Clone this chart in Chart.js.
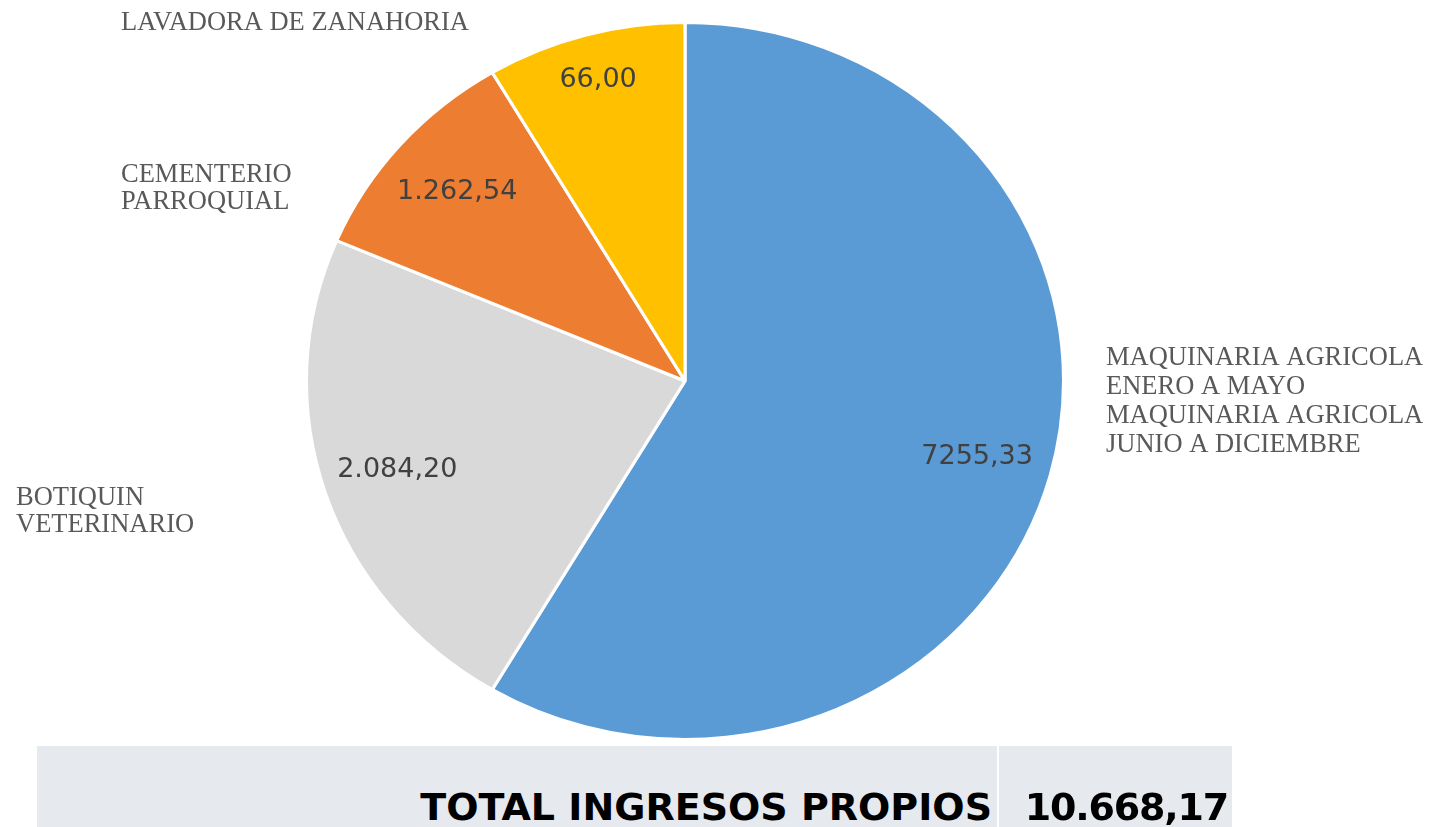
<!DOCTYPE html>
<html lang="es">
<head>
  <meta charset="UTF-8">
  <title>Total ingresos propios</title>
  <script src="https://cdn.jsdelivr.net/npm/chart.js@4.4.0/dist/chart.umd.min.js"></script>
  <style>
    html, body { margin: 0; padding: 0; background: #fff; }
    body { width: 1433px; height: 827px; position: relative; overflow: hidden; }
    #pie { position: absolute; left: 0; top: 0; }
    .cell {
      position: absolute; top: 746px; height: 90px; background: #E6E9ED;
      font-family: "DejaVu Sans", Verdana, sans-serif; font-weight: bold;
      font-size: 38px; line-height: 38px; color: #000;
    }
    .cell span { position: absolute; top: 42px; white-space: nowrap; }
  </style>
</head>
<body>
  <canvas id="pie" width="1433" height="827"></canvas>
  <div class="cell" style="left:37px; width:960px;"><span id="totalLabel" style="right:5px;"></span></div>
  <div class="cell" style="left:999px; width:233px;"><span id="totalValue" style="right:4px; letter-spacing:-1.2px;"></span></div>
  <script>
    // categorias (en el orden en que se dibujan, desde arriba en sentido horario)
    const categories = [
      ['MAQUINARIA AGRICOLA', 'ENERO A MAYO', 'MAQUINARIA AGRICOLA', 'JUNIO A DICIEMBRE'],
      ['BOTIQUIN', 'VETERINARIO'],
      ['CEMENTERIO', 'PARROQUIAL'],
      ['LAVADORA DE ZANAHORIA']
    ];
    // tamaño de cada porcion tal como aparece en el grafico (%)
    const sliceShare = [58.5, 22.9, 10.1, 8.5];
    // etiquetas de valor que muestra cada porcion
    const valueLabels = ['7255,33', '2.084,20', '1.262,54', '66,00'];
    const totalLabel = 'TOTAL INGRESOS PROPIOS';
    const totalValue = '10.668,17';

    document.getElementById('totalLabel').textContent = totalLabel;
    document.getElementById('totalValue').textContent = totalValue;

    // el pastel original esta algo estirado en horizontal
    const stretchX = 1.056;

    const ellipsePlugin = {
      id: 'ellipse',
      beforeDatasetsDraw(chart) {
        const a = chart.chartArea;
        const cx = (a.left + a.right) / 2;
        const c = chart.ctx;
        c.save();
        c.translate(cx, 0);
        c.scale(stretchX, 1);
        c.translate(-cx, 0);
      },
      afterDatasetsDraw(chart) {
        chart.ctx.restore();
      }
    };

    const labelsPlugin = {
      id: 'sliceLabels',
      afterDraw(chart, args, opts) {
        const c = chart.ctx;
        const arcs = chart.getDatasetMeta(0).data;
        c.save();
        // valores dentro de las porciones
        c.font = '27px "DejaVu Sans", Verdana, sans-serif';
        c.fillStyle = '#404040';
        c.textAlign = 'center';
        c.textBaseline = 'middle';
        arcs.forEach((arc, i) => {
          const p = arc.getProps(['x', 'y', 'startAngle', 'endAngle', 'outerRadius'], true);
          const mid = (p.startAngle + p.endAngle) / 2;
          const r = p.outerRadius * opts.radius[i];
          c.fillText(valueLabels[i], p.x + Math.cos(mid) * r * stretchX, p.y + Math.sin(mid) * r);
        });
        // nombres de categoria fuera del pastel
        c.font = '26.5px "Liberation Serif", "Times New Roman", serif';
        c.fillStyle = '#595959';
        c.textAlign = 'left';
        c.textBaseline = 'alphabetic';
        categories.forEach((lines, i) => {
          const pos = opts.names[i];
          lines.forEach((t, j) => c.fillText(t, pos.x, pos.y + j * pos.lh));
        });
        c.restore();
      }
    };

    new Chart(document.getElementById('pie'), {
      type: 'pie',
      data: {
        labels: categories.map(l => l.join(' ')),
        datasets: [{
          data: sliceShare,
          backgroundColor: ['#5B9BD5', '#D9D9D9', '#ED7D31', '#FFC000'],
          borderColor: '#ffffff',
          borderWidth: 3
        }]
      },
      options: {
        responsive: false,
        animation: false,
        layout: { padding: { left: 325, right: 388, top: 21, bottom: 86 } },
        plugins: {
          legend: { display: false },
          tooltip: { enabled: false },
          sliceLabels: {
            radius: [0.8, 0.8, 0.8, 0.87],
            names: [
              { x: 1106, y: 365, lh: 29 },
              { x: 16, y: 505, lh: 27 },
              { x: 121, y: 182, lh: 27 },
              { x: 121, y: 30, lh: 27 }
            ]
          }
        }
      },
      plugins: [ellipsePlugin, labelsPlugin]
    });
  </script>
</body>
</html>
